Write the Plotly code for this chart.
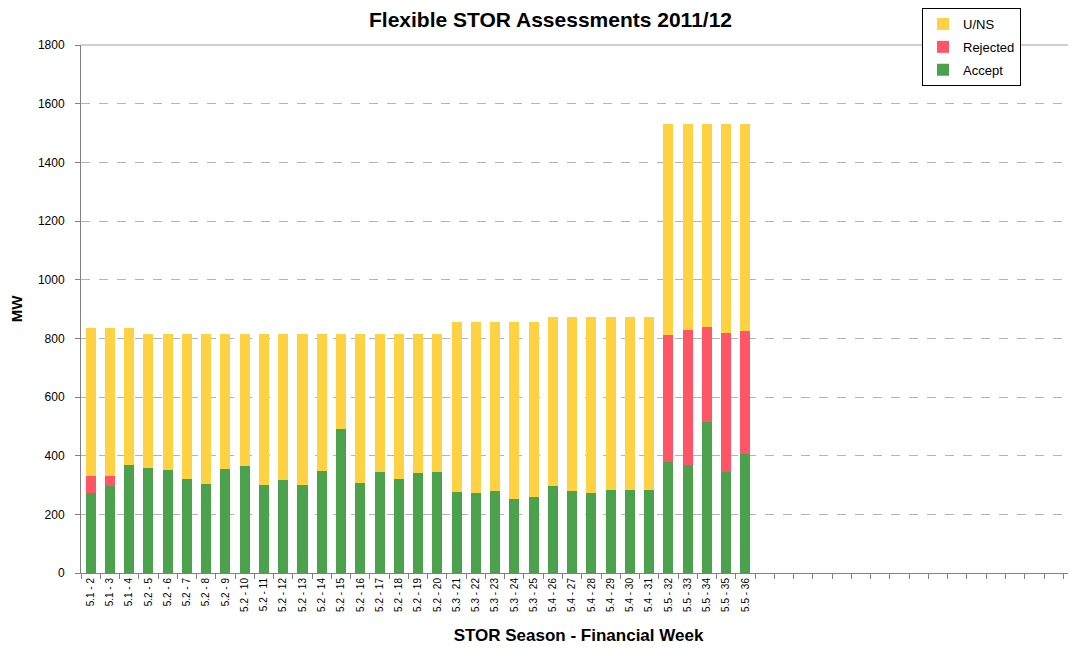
import plotly.graph_objects as go

labels = ["5.1 - 2", "5.1 - 3", "5.1 - 4",
          "5.2 - 5", "5.2 - 6", "5.2 - 7", "5.2 - 8", "5.2 - 9", "5.2 - 10", "5.2 - 11",
          "5.2 - 12", "5.2 - 13", "5.2 - 14", "5.2 - 15", "5.2 - 16", "5.2 - 17", "5.2 - 18",
          "5.2 - 19", "5.2 - 20",
          "5.3 - 21", "5.3 - 22", "5.3 - 23", "5.3 - 24", "5.3 - 25",
          "5.4 - 26", "5.4 - 27", "5.4 - 28", "5.4 - 29", "5.4 - 30", "5.4 - 31",
          "5.5 - 32", "5.5 - 33", "5.5 - 34", "5.5 - 35", "5.5 - 36"]

accept = [273, 296, 368, 359, 351, 320, 302, 355, 365, 300, 317, 300, 347, 492, 308, 344,
          322, 340, 344, 277, 272, 280, 253, 258, 295, 280, 272, 284, 282, 282,
          378, 369, 515, 343, 406]
rejected = [58, 35, 0, 0, 0, 0, 0, 0, 0, 0, 0, 0, 0, 0, 0, 0, 0, 0, 0,
            0, 0, 0, 0, 0, 0, 0, 0, 0, 0, 0,
            435, 461, 324, 475, 419]
uns = [505, 505, 468, 456, 464, 495, 513, 460, 450, 515, 498, 515, 468, 323, 507, 471,
       493, 475, 471, 578, 583, 575, 602, 597, 578, 593, 601, 589, 591, 591,
       719, 702, 693, 714, 707]

yticks = [0, 200, 400, 600, 800, 1000, 1200, 1400, 1600, 1800]

xpos = list(range(len(labels)))
FONT = "Liberation Sans, Arial, sans-serif"

W, H = 1068, 648          # page adds an 8px body margin
ML, MT, MB, MR = 73, 37, 83, 0
PW, PH = W - ML - MR, H - MT - MB

fig = go.Figure()
fig.add_trace(go.Bar(x=xpos, y=accept, name="Accept", width=0.52, legendgroup="a",
                     legendrank=3, marker=dict(color="#4CA24C", line=dict(width=0))))
fig.add_trace(go.Bar(x=xpos, y=rejected, name="Rejected", width=0.52, legendgroup="r",
                     legendrank=2, marker=dict(color="#FF5566", line=dict(width=0))))
fig.add_trace(go.Bar(x=xpos, y=uns, name="U/NS", width=0.52, legendgroup="u",
                     legendrank=1, marker=dict(color="#FFD244", line=dict(width=0))))

fig.update_layout(
    barmode="stack",
    width=W, height=H,
    margin=dict(l=ML, r=MR, t=MT, b=MB, autoexpand=False),
    paper_bgcolor="white", plot_bgcolor="white",
    font=dict(family=FONT, size=12, color="#000000"),
    title=dict(text="<b>Flexible STOR Assessments 2011/12</b>", x=542.5 / W, xanchor="center",
               y=1 - 12 / H, yanchor="middle",
               font=dict(family=FONT, size=21, color="#000000")),
    showlegend=True,
    legend=dict(x=(914 - ML) / PW, y=(MT + PH) / PH, xanchor="left", yanchor="top",
                traceorder="grouped", bgcolor="white", bordercolor="#000000",
                borderwidth=1, font=dict(family=FONT, size=13, color="#000000"),
                itemwidth=30, tracegroupgap=3),
    xaxis=dict(
        range=[-0.5, -0.5 + PW / 19.26],
        tickmode="array", tickvals=xpos, ticktext=labels, tickangle=-90,
        ticks="", tickfont=dict(family=FONT, size=10, color="#000000"),
        showgrid=False, zeroline=False,
        showline=True, linecolor="#808080", linewidth=1,
        minor=dict(tickmode="linear", tick0=0.5, dtick=1, ticks="outside", ticklen=5,
                   tickcolor="#808080", showgrid=False),
        title=dict(text="<b>STOR Season - Financial Week</b>", standoff=18,
                   font=dict(family=FONT, size=17, color="#000000")),
    ),
    yaxis=dict(
        range=[0, 1800], tickmode="array", tickvals=yticks,
        ticks="outside", ticklen=5, tickcolor="#808080",
        tickfont=dict(family=FONT, size=12, color="#000000"),
        ticklabelstandoff=8,
        showgrid=True, gridcolor="#B4B4B4", griddash="dash", gridwidth=1,
        zeroline=False,
        showline=True, linecolor="#808080", linewidth=1,
        title=dict(text="<b>MW</b>", standoff=22,
                   font=dict(family=FONT, size=15, color="#000000")),
    ),
    shapes=[dict(type="line", xref="paper", yref="paper", x0=0, x1=1, y0=1, y1=1,
                 line=dict(color="#A0A0A0", width=1))],
)

fig.write_html("out.html")
